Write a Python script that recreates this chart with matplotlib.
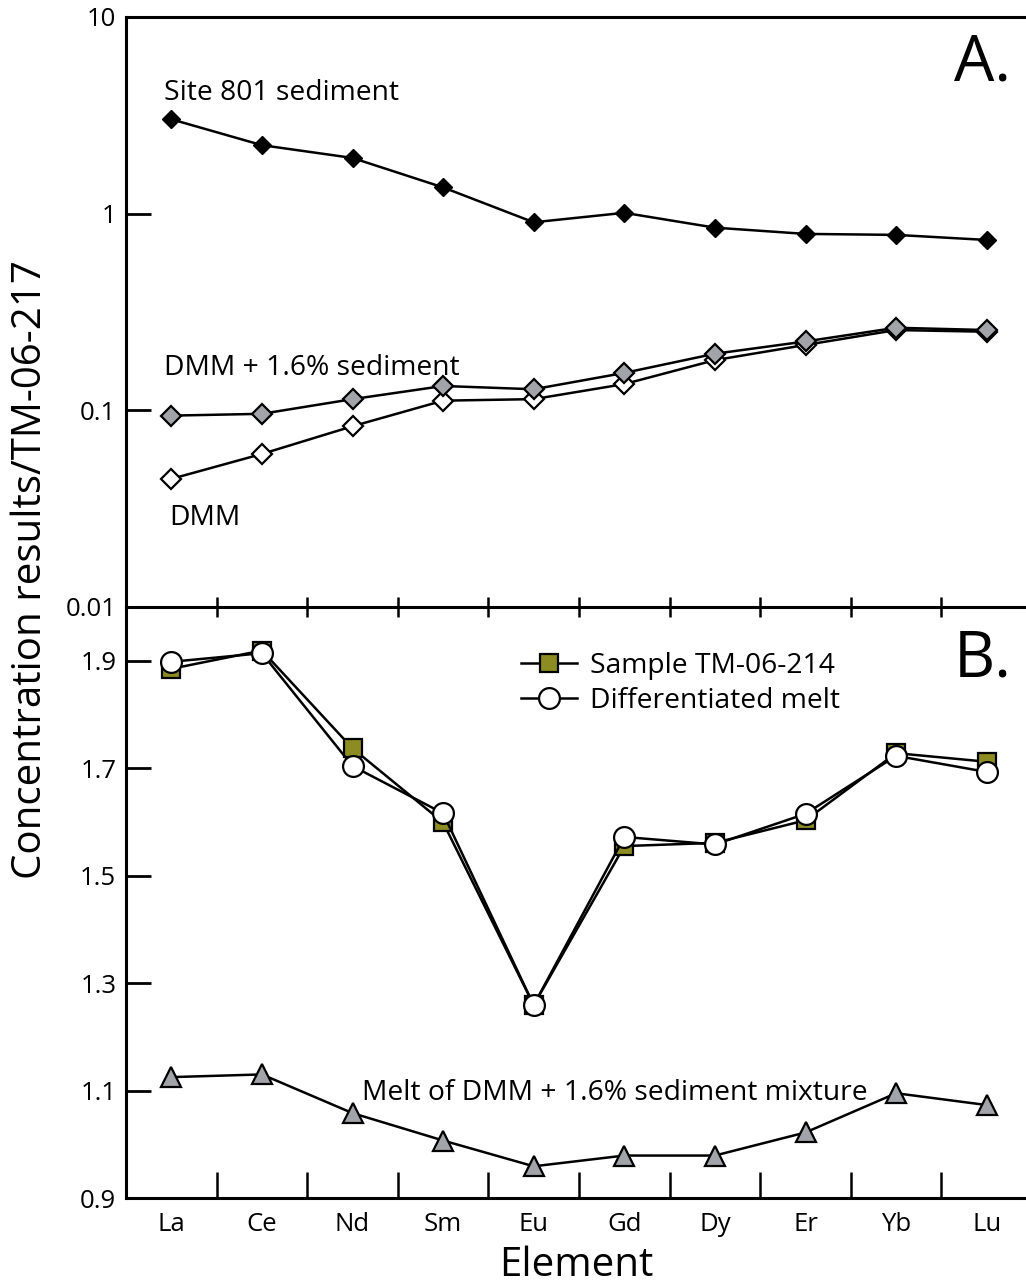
import numpy as np
import matplotlib
matplotlib.use('Agg')
import matplotlib.pyplot as plt
from matplotlib.ticker import FixedLocator, NullLocator

plt.rcParams['font.family'] = ['Open Sans', 'DejaVu Sans']

# REE patterns normalised to TM-06-217
elements = ['La', 'Ce', 'Nd', 'Sm', 'Eu', 'Gd', 'Dy', 'Er', 'Yb', 'Lu']
site801 = [3.02, 2.23, 1.92, 1.36, 0.904, 1.01, 0.849, 0.789, 0.780, 0.735]
dmm_sed = [0.094, 0.096, 0.114, 0.133, 0.128, 0.155, 0.194, 0.224, 0.263, 0.256]
dmm = [0.0448, 0.060, 0.083, 0.112, 0.114, 0.136, 0.180, 0.215, 0.256, 0.251]

sample214 = [1.885, 1.919, 1.737, 1.599, 1.259, 1.555, 1.561, 1.603, 1.728, 1.712]
diff_melt = [1.898, 1.914, 1.704, 1.616, 1.259, 1.572, 1.558, 1.615, 1.723, 1.693]
mix_melt = [1.125, 1.130, 1.058, 1.007, 0.959, 0.979, 0.979, 1.022, 1.095, 1.073]

x = np.arange(1, len(elements) + 1)
W, H = 1026, 1285
fig = plt.figure(figsize=(W / 100, H / 100), dpi=100)

left = 126 / W
width = 906 / W
ax2 = fig.add_axes([left, 1 - 1198 / H, width, (1198 - 607) / H])
ax1 = fig.add_axes([left, 1 - 607 / H, width, (607 - 17) / H])
ax1.patch.set_alpha(0)
ax1.set_zorder(2)

lw = 1.8
tick_fs = 18.5
note_fs = 20.3
spine_lw = 2.2

# panel A
ax1.plot(x, dmm, '-D', color='black', lw=lw, ms=10.5, mfc='white', mec='black', mew=1.6, zorder=3)
ax1.plot(x, dmm_sed, '-D', color='black', lw=lw, ms=10.5, mfc='#a3a3aa', mec='black', mew=1.6, zorder=4)
ax1.plot(x, site801, '-D', color='black', lw=lw, ms=9, mfc='black', mec='black', zorder=5)
ax1.set_yscale('log')
ax1.set_ylim(0.01, 10)
ax1.set_xlim(0.5, 10.5)
ax1.yaxis.set_major_locator(FixedLocator([0.01, 0.1, 1, 10]))
ax1.yaxis.set_minor_locator(NullLocator())
ax1.set_yticklabels(['0.01', '0.1', '1', '10'])
ax1.xaxis.set_major_locator(NullLocator())
ax1.xaxis.set_minor_locator(FixedLocator(x[:-1] + 0.5))
ax1.tick_params(axis='x', which='minor', direction='inout', length=14, width=1.8)
ax1.tick_params(axis='y', which='major', direction='in', length=18, width=2.0,
                labelsize=tick_fs, pad=7)

ax1.text(0.92, 4.1, 'Site 801 sediment', fontsize=note_fs, va='center', ha='left')
ax1.text(0.92, 0.165, 'DMM + 1.6% sediment', fontsize=note_fs, va='center', ha='left')
ax1.text(0.98, 0.0285, 'DMM', fontsize=note_fs, va='center', ha='left')
ax1.text(0.977, 0.975, 'A.', transform=ax1.transAxes, fontsize=46, ha='right', va='top')

# panel B
ax2.plot(x, sample214, '-s', color='black', lw=lw, ms=13, mfc='#8c8c22', mec='black', mew=1.6,
         label='Sample TM-06-214', zorder=3)
ax2.plot(x, diff_melt, '-o', color='black', lw=lw, ms=15, mfc='white', mec='black', mew=1.6,
         label='Differentiated melt', zorder=4)
ax2.plot(x, mix_melt, '-^', color='black', lw=lw, ms=15, mfc='#a3a3aa', mec='black', mew=1.6,
         zorder=3)
ax2.set_ylim(0.9, 2.0)
ax2.set_xlim(0.5, 10.5)
ax2.set_yticks([0.9, 1.1, 1.3, 1.5, 1.7, 1.9])
ax2.set_yticklabels(['0.9', '1.1', '1.3', '1.5', '1.7', '1.9'])
ax2.set_xticks(x)
ax2.set_xticklabels(elements)
ax2.xaxis.set_minor_locator(FixedLocator(x[:-1] + 0.5))
ax2.tick_params(axis='x', which='major', length=0, labelsize=tick_fs, pad=10)
ax2.tick_params(axis='x', which='minor', direction='in', length=19, width=1.8)
ax2.tick_params(axis='y', which='major', direction='in', length=18, width=2.0,
                labelsize=tick_fs, pad=7)
ax2.spines['top'].set_visible(False)

ax2.text(3.1, 1.095, 'Melt of DMM + 1.6% sediment mixture', fontsize=note_fs,
         va='center', ha='left')
ax2.text(0.978, 0.965, 'B.', transform=ax2.transAxes, fontsize=46, ha='right', va='top')

leg = ax2.legend(loc='upper left', bbox_to_anchor=(0.423, 0.943), frameon=False,
                 fontsize=note_fs, handlelength=2.0, handletextpad=0.45,
                 labelspacing=0.24, borderaxespad=0)

for ax in (ax1, ax2):
    for s in ax.spines.values():
        s.set_linewidth(spine_lw)

fig.text(576 / W, 1 - 1266 / H, 'Element', fontsize=29, ha='center', va='center')
fig.text(31 / W, 1 - 570 / H, 'Concentration results/TM-06-217', fontsize=29,
         rotation=90, ha='center', va='center')

fig.savefig('out.png', dpi=100, facecolor='white')
